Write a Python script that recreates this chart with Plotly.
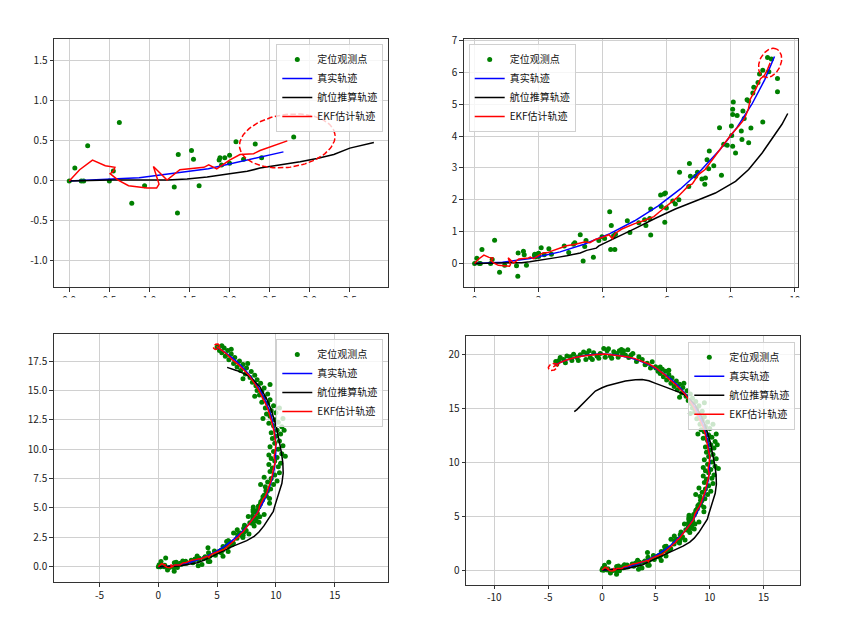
import numpy as np
import plotly.graph_objects as go

# ---------------- data (time ordered) ----------------
# observations (定位观测点), split into the parts added by each successive panel
OBS1_X = [0, 0.07, 0.15, 0.18, 0.23, 0.5, 0.55, 0.625, 0.78, 0.94, 1.31, 1.35, 1.36, 1.525, 1.55, 1.62,
          1.87, 1.88, 1.9, 1.94, 2.0, 2.0, 2.08, 2.175, 2.32, 2.4, 2.8]
OBS1_Y = [0, 0.16, 0.0, 0.0, 0.44, 0.0, 0.125, 0.73, -0.28, -0.06, -0.075, -0.40, 0.33, 0.38, 0.27, -0.06,
          0.26, 0.29, 0.2, 0.29, 0.32, 0.22, 0.49, 0.27, 0.46, 0.29, 0.55]
OBS2_X = [2.94, 3.09, 3.13, 3.3, 3.39, 3.44, 3.48, 3.71, 3.88, 3.98, 4.06, 4.22, 4.27, 4.25, 4.38, 4.34, 4.4,
          4.77, 4.85, 5.13, 5.31, 5.35, 5.47, 5.5, 5.5, 5.81, 5.83, 5.92, 5.96, 5.94, 5.99, 6.19, 6.27, 6.38,
          6.4, 6.69, 6.71, 6.74, 6.9, 6.96, 7.1, 7.19, 7.21, 7.26, 7.31, 7.33, 7.47, 7.65, 7.71, 7.78, 7.89,
          8.02, 8.03, 8.06, 8.06, 8.06, 8.08, 8.15, 8.2, 8.33, 8.35, 8.38, 8.42, 8.51, 8.56, 8.56, 8.63, 8.69,
          8.72, 8.85, 8.9, 9.0, 9.0, 9.15, 9.19, 9.27, 9.46, 9.46]
OBS2_Y = [0.34, 0.6, 0.65, 0.9, 0.08, 0.53, 0.72, 0.19, 0.72, 0.84, 0.78, 1.62, 1.19, 0.44, 0.44, 0.87, 0.92,
          1.34, 0.97, 1.28, 1.37, 1.19, 1.41, 1.71, 0.89, 2.15, 1.79, 2.18, 2.21, 1.29, 1.74, 1.96, 1.87, 2.0,
          2.86, 2.42, 3.14, 2.74, 2.74, 2.86, 2.65, 2.49, 2.68, 3.26, 2.97, 3.53, 3.07, 4.26, 2.77, 3.74, 3.71,
          4.32, 4.02, 4.84, 4.68, 3.68, 5.07, 3.47, 4.65, 4.16, 3.89, 4.79, 4.55, 5.14, 5.1, 3.79, 4.25, 5.35,
          5.53, 5.68, 5.95, 4.44, 6.07, 6.47, 6.02, 6.42, 5.81, 5.39]
OBS3_X = [9.55, 9.1, 8.7, 9.8, 9.3, 10.1, 9.6, 9.0, 9.9, 10.3, 9.5, 9.7, 10.2, 9.4, 10.4, 9.9,
          9.6, 10.1, 10.8, 9.4, 10.5, 9.8, 10.2, 9.5, 10.6, 9.9, 10.3, 9.7, 10.0,
          10.4, 9.6, 10.7, 10.1, 10.5, 9.8, 9.4, 10.2, 9.9, 10.6, 8.9, 9.5, 9.2,
          10.0, 9.6, 10.3, 9.1, 9.8, 9.3, 8.8, 9.5, 8.2, 9.0, 8.6, 9.3, 8.8, 8.4,
          9.0, 9.5, 8.3, 8.7, 8.0, 8.4, 7.2, 7.8, 8.2, 7.4, 7.9, 7.0, 7.5, 6.7, 7.2, 7.6, 6.4,
          6.9, 6.0, 6.5, 5.7, 6.2, 5.4, 5.9, 6.2, 5.2, 5.6, 5.0, 5.4]
OBS3_Y = [6.6, 6.8, 7.0, 7.0, 7.2, 7.3, 7.5, 7.6, 7.8, 8.0, 8.1, 8.4, 8.5, 8.7, 8.8, 9.0,
          9.2, 9.3, 9.4, 9.5, 9.6, 9.8, 10.0, 10.2, 10.3, 10.5, 10.7, 10.9, 11.1,
          11.3, 11.4, 11.6, 11.6, 11.9, 12.0, 12.2, 12.3, 12.5, 12.6, 12.6, 12.8, 13.0,
          13.1, 13.3, 13.5, 13.5, 13.7, 13.9, 14.0, 14.2, 14.5, 14.4, 14.6, 14.7, 14.9, 15.0,
          15.2, 15.5, 15.4, 15.6, 15.7, 15.9, 16.0, 16.1, 16.3, 16.4, 16.6, 16.7, 16.9, 17.0, 17.2, 17.3, 17.3,
          17.5, 17.6, 17.8, 17.9, 18.1, 18.2, 18.4, 18.5, 18.4, 18.6, 18.7, 18.8]
OBS4_X = [4.97, 4.66, 4.19, 4.5, 3.73, 4.0, 3.42, 3.2, 2.86, 2.48, 2.7, 2.4, 2.17, 2.0, 1.9, 1.8, 1.61, 1.5,
          1.4, 1.09, 0.9, 0.78, 0.6, 0.47, 0.3, 0.16, -0.16, -0.3, -0.47, -0.78, -0.9, -1.09, -1.2, -1.4,
          -1.5, -1.71, -2.02, -2.2, -2.33, -2.64, -2.8, -2.95, -3.26, -3.4, -3.57, -3.88, -4.04, -4.19, -4.3]
OBS4_Y = [18.83, 19.29, 19.14, 18.7, 19.5, 19.0, 19.75, 19.3, 20.06, 19.69, 19.9, 20.4, 19.9, 20.3, 20.0,
          20.43, 20.31, 19.7, 20.06, 20.22, 19.6, 19.81, 20.5, 20.31, 19.7, 20.52, 20.06, 19.6, 19.81, 20.12,
          19.5, 19.69, 20.3, 20.06, 19.5, 20.19, 19.94, 19.4, 19.69, 19.97, 19.4, 19.75, 19.81, 19.2, 19.5,
          19.69, 19.38, 19.07, 19.3]

# true trajectory (真实轨迹)
TRUE1_X = [0.0, 0.872, 1.736, 2.588, 2.672]
TRUE1_Y = [0.0, 0.038, 0.152, 0.341, 0.363]
TRUE2_X = [3.420, 4.226, 5.000, 5.736, 6.428, 7.071, 7.660, 8.192, 8.660, 9.063, 9.367]
TRUE2_Y = [0.603, 0.937, 1.340, 1.808, 2.340, 2.929, 3.572, 4.264, 5.000, 5.774, 6.498]
TRUE3_X = [9.659, 9.848, 9.962, 10.0, 9.962, 9.848, 9.659, 9.397, 9.063, 8.660, 8.192, 7.660, 7.071,
           6.428, 5.736, 5.000]
TRUE3_Y = [7.412, 8.264, 9.128, 10.0, 10.872, 11.736, 12.588, 13.420, 14.226, 15.000, 15.736, 16.428,
           17.071, 17.660, 18.192, 18.660]
TRUE4_X = [4.226, 3.420, 2.588, 1.736, 0.872, 0.0, -0.872, -1.736, -2.588, -3.420, -4.226, -4.384]
TRUE4_Y = [19.063, 19.397, 19.659, 19.848, 19.962, 20.0, 19.962, 19.848, 19.659, 19.397, 19.063, 18.988]

# dead reckoning (航位推算轨迹)
DR1_X = [0, 0.51, 1.0, 1.22, 1.47, 1.72, 2.0, 2.22, 2.38, 2.59, 2.88, 3.09, 3.3, 3.5, 3.8]
DR1_Y = [0, 0.01, 0.01, 0.01, 0.025, 0.05, 0.09, 0.12, 0.16, 0.19, 0.24, 0.28, 0.33, 0.41, 0.48]
DR2_X = [3.88, 4.4, 5.02, 5.65, 6.27, 7.0, 7.52, 8.15, 8.56, 8.98, 9.34, 9.6, 9.78]
DR2_Y = [0.55, 0.79, 1.1, 1.42, 1.71, 2.0, 2.21, 2.58, 2.95, 3.47, 4.0, 4.37, 4.71]
DR3_X = [9.89, 10.25, 10.51, 10.62, 10.59, 10.48, 10.31, 10.03, 9.6, 9.18, 8.62, 8.05, 7.49, 6.64, 5.85]
DR3_Y = [5.11, 6.25, 7.1, 7.95, 8.81, 9.66, 10.65, 11.93, 13.35, 14.35, 15.34, 15.91, 16.34, 16.7, 16.96]
DR4_X = [4.97, 4.35, 3.73, 3.11, 2.17, 1.24, 0.47, 0.0, -0.62, -1.24, -1.86, -2.33, -2.58]
DR4_Y = [17.28, 17.52, 17.65, 17.62, 17.5, 17.3, 17.07, 16.88, 16.57, 15.95, 15.3, 14.85, 14.66]

# EKF estimate (EKF估计轨迹)
EKF1_X = [0, 0.13, 0.29, 0.45, 0.57, 0.55, 0.51, 0.61, 0.74, 0.97, 1.09, 1.12, 1.05, 1.22, 1.38, 1.68,
          1.74, 1.84, 2.0, 2.13, 2.3, 2.38, 2.72]
EKF1_Y = [0, 0.14, 0.26, 0.19, 0.17, 0.12, 0.09, 0.01, -0.06, -0.09, -0.09, -0.04, 0.18, 0.01, 0.14, 0.17,
          0.2, 0.15, 0.26, 0.33, 0.34, 0.38, 0.5]
EKF2_X = [2.83, 3.15, 3.46, 3.6, 3.77, 4.0, 4.2, 4.3, 4.4, 4.6, 5.0, 5.3, 5.6, 5.75, 6.06, 6.3, 6.5, 6.69,
          6.8, 7.0, 7.2, 7.35, 7.52, 7.73, 7.99, 8.25, 8.4, 8.45, 8.55, 8.61, 8.77, 8.93, 9.05, 9.15, 9.23]
EKF2_Y = [0.55, 0.6, 0.68, 0.65, 0.75, 0.82, 0.9, 0.78, 0.95, 1.08, 1.25, 1.35, 1.47, 1.6, 1.85, 2.05, 2.25,
          2.45, 2.5, 2.8, 2.95, 3.15, 3.37, 3.68, 4.02, 4.32, 4.5, 4.6, 4.85, 5.16, 5.45, 5.8, 5.9, 6.1, 6.3]
EKF3_X = [9.35, 9.55, 9.7, 9.8, 9.95, 9.85, 9.95, 10.0, 9.9, 9.85, 9.7, 9.55, 9.35, 9.1, 8.8, 8.45, 8.1,
          7.7, 7.3, 6.8, 6.3, 5.8, 5.4, 5.15, 4.95]
EKF3_Y = [6.7, 7.2, 7.8, 8.4, 8.9, 9.4, 9.9, 10.5, 11.0, 11.5, 12.1, 12.7, 13.3, 13.9, 14.5, 15.2, 15.7,
          16.3, 16.7, 17.2, 17.6, 18.1, 18.4, 18.6, 18.75]
EKF4_X = [4.4, 3.7, 3.0, 2.3, 1.6, 0.9, 0.2, -0.5, -1.2, -1.9, -2.6, -3.3, -3.9, -4.53]
EKF4_Y = [19.05, 19.35, 19.6, 19.75, 19.85, 19.95, 20.0, 19.95, 19.9, 19.8, 19.65, 19.45, 19.2, 18.8]

# covariance ellipse at the last estimate of each panel: centre x, centre y, semi-axes, tilt (deg)
ELL_CX = [2.72, 9.23, 4.95, -4.55]
ELL_CY = [0.50, 6.30, 18.72, 18.80]
ELL_A = [0.60, 0.48, 0.28, 0.45]
ELL_B = [0.33, 0.33, 0.22, 0.30]
ELL_ANG = [8, 65, 30, 20]

# tick labels of each panel
X_TICKS = [[0.0, 0.5, 1.0, 1.5, 2.0, 2.5, 3.0, 3.5], [0, 2, 4, 6, 8, 10],
           [-5, 0, 5, 10, 15], [-10, -5, 0, 5, 10, 15]]
X_TEXT = [["0.0", "0.5", "1.0", "1.5", "2.0", "2.5", "3.0", "3.5"], ["0", "2", "4", "6", "8", "10"],
          ["-5", "0", "5", "10", "15"], ["-10", "-5", "0", "5", "10", "15"]]
Y_TICKS = [[-1.0, -0.5, 0.0, 0.5, 1.0, 1.5], [0, 1, 2, 3, 4, 5, 6, 7],
           [0.0, 2.5, 5.0, 7.5, 10.0, 12.5, 15.0, 17.5], [0, 5, 10, 15, 20]]
Y_TEXT = [["-1.0", "-0.5", "0.0", "0.5", "1.0", "1.5"], ["0", "1", "2", "3", "4", "5", "6", "7"],
          ["0.0", "2.5", "5.0", "7.5", "10.0", "12.5", "15.0", "17.5"], ["0", "5", "10", "15", "20"]]

NAMES = ["定位观测点", "真实轨迹", "航位推算轨迹", "EKF估计轨迹"]

# ---------------- layout geometry ----------------
# the page puts the figure 8 px in from the top-left corner, so the figure is 8 px smaller
OFF = 8
W, H = 844 - OFF, 624 - OFF
X_RANGES = [[-0.19, 3.98], [-0.34, 10.11], [-8.9, 19.56], [-12.63, 18.41]]
Y_RANGES = [[-1.33, 1.77], [-0.75, 7.04], [-1.33, 19.8], [-1.36, 21.67]]
BOX_PX = [(54, 388.3, 39.3, 287.3), (463.7, 798.3, 39.3, 287.3),
          (53.7, 388.3, 334, 582.3), (466, 800.3, 336, 584.7)]  # left, right, top, bottom (window px)
LEG_POS = [(383.3, 44, "right"), (468.7, 44, "left"), (383.3, 339, "right"), (795.3, 341.7, "right")]


def px_x(p):
    return (p - OFF) / W


def px_y(p):
    return 1 - (p - OFF) / H


def cum(parts, k):
    out = []
    for p in parts[:k]:
        out += p
    return out


obs_x_parts = [OBS1_X, OBS2_X, OBS3_X, OBS4_X]
obs_y_parts = [OBS1_Y, OBS2_Y, OBS3_Y, OBS4_Y]
tr_x_parts = [TRUE1_X, TRUE2_X, TRUE3_X, TRUE4_X]
tr_y_parts = [TRUE1_Y, TRUE2_Y, TRUE3_Y, TRUE4_Y]
dr_x_parts = [DR1_X, DR2_X, DR3_X, DR4_X]
dr_y_parts = [DR1_Y, DR2_Y, DR3_Y, DR4_Y]
ek_x_parts = [EKF1_X, EKF2_X, EKF3_X, EKF4_X]
ek_y_parts = [EKF1_Y, EKF2_Y, EKF3_Y, EKF4_Y]

FONT = "Noto Sans CJK SC, DejaVu Sans, sans-serif"
fig = go.Figure()
layout = dict(width=W, height=H, margin=dict(l=0, r=0, t=0, b=0, autoexpand=False),
              paper_bgcolor="white", plot_bgcolor="white", shapes=[])

for i in range(4):
    k = i + 1
    sfx = "" if k == 1 else str(k)
    xa, ya = "x" + sfx, "y" + sfx
    leg = "legend" + sfx
    common = dict(xaxis=xa, yaxis=ya, legend=leg)
    fig.add_trace(go.Scatter(x=cum(obs_x_parts, k), y=cum(obs_y_parts, k), mode="markers",
                             marker=dict(color="#008000", size=5), name=NAMES[0], **common))
    fig.add_trace(go.Scatter(x=cum(tr_x_parts, k), y=cum(tr_y_parts, k), mode="lines",
                             line=dict(color="#0000ff", width=1.5), name=NAMES[1], **common))
    fig.add_trace(go.Scatter(x=cum(dr_x_parts, k), y=cum(dr_y_parts, k), mode="lines",
                             line=dict(color="#000000", width=1.5), name=NAMES[2], **common))
    fig.add_trace(go.Scatter(x=cum(ek_x_parts, k), y=cum(ek_y_parts, k), mode="lines",
                             line=dict(color="#ff0000", width=1.5), name=NAMES[3], **common))
    t = np.linspace(0, 2 * np.pi, 120)
    ang = np.deg2rad(ELL_ANG[i])
    ex = ELL_CX[i] + ELL_A[i] * np.cos(t) * np.cos(ang) - ELL_B[i] * np.sin(t) * np.sin(ang)
    ey = ELL_CY[i] + ELL_A[i] * np.cos(t) * np.sin(ang) + ELL_B[i] * np.sin(t) * np.cos(ang)
    fig.add_trace(go.Scatter(x=ex, y=ey, mode="lines", showlegend=False,
                             line=dict(color="#ff0000", width=1.5, dash="5.5px,2.4px"), **common))

    l, r, tp, bt = BOX_PX[i]
    axis_common = dict(showline=True, mirror=True, linecolor="#333333", linewidth=1,
                       ticks="outside", ticklen=3.5, tickwidth=0.8, tickcolor="#333333",
                       showgrid=True, gridcolor="#d0d0d0", gridwidth=1, zeroline=False,
                       automargin=False,
                       tickfont=dict(family=FONT, size=10, color="#222222"), tickmode="array")
    layout["xaxis" + sfx] = dict(domain=[px_x(l), px_x(r)], range=X_RANGES[i], anchor=ya,
                                 tickvals=X_TICKS[i], ticktext=X_TEXT[i], **axis_common)
    layout["yaxis" + sfx] = dict(domain=[px_y(bt), px_y(tp)], range=Y_RANGES[i], anchor=xa,
                                 tickvals=Y_TICKS[i], ticktext=Y_TEXT[i], **axis_common)
    lx, ly, anc = LEG_POS[i]
    layout[leg] = dict(x=px_x(lx), y=px_y(ly), xanchor=anc, yanchor="top",
                       bgcolor="rgba(255,255,255,0.8)", bordercolor="#d0d0d0", borderwidth=1,
                       font=dict(family=FONT, size=10, color="#111111"), itemwidth=30,
                       tracegroupgap=0)

# the x tick labels of the top row are cut off half way in the reference
layout["shapes"].append(dict(type="rect", xref="paper", yref="paper", layer="above",
                             x0=0.0, x1=1.0, y0=px_y(318), y1=px_y(297.5),
                             fillcolor="white", line=dict(width=0)))

fig.update_layout(**layout)
fig.write_html("out.html")
